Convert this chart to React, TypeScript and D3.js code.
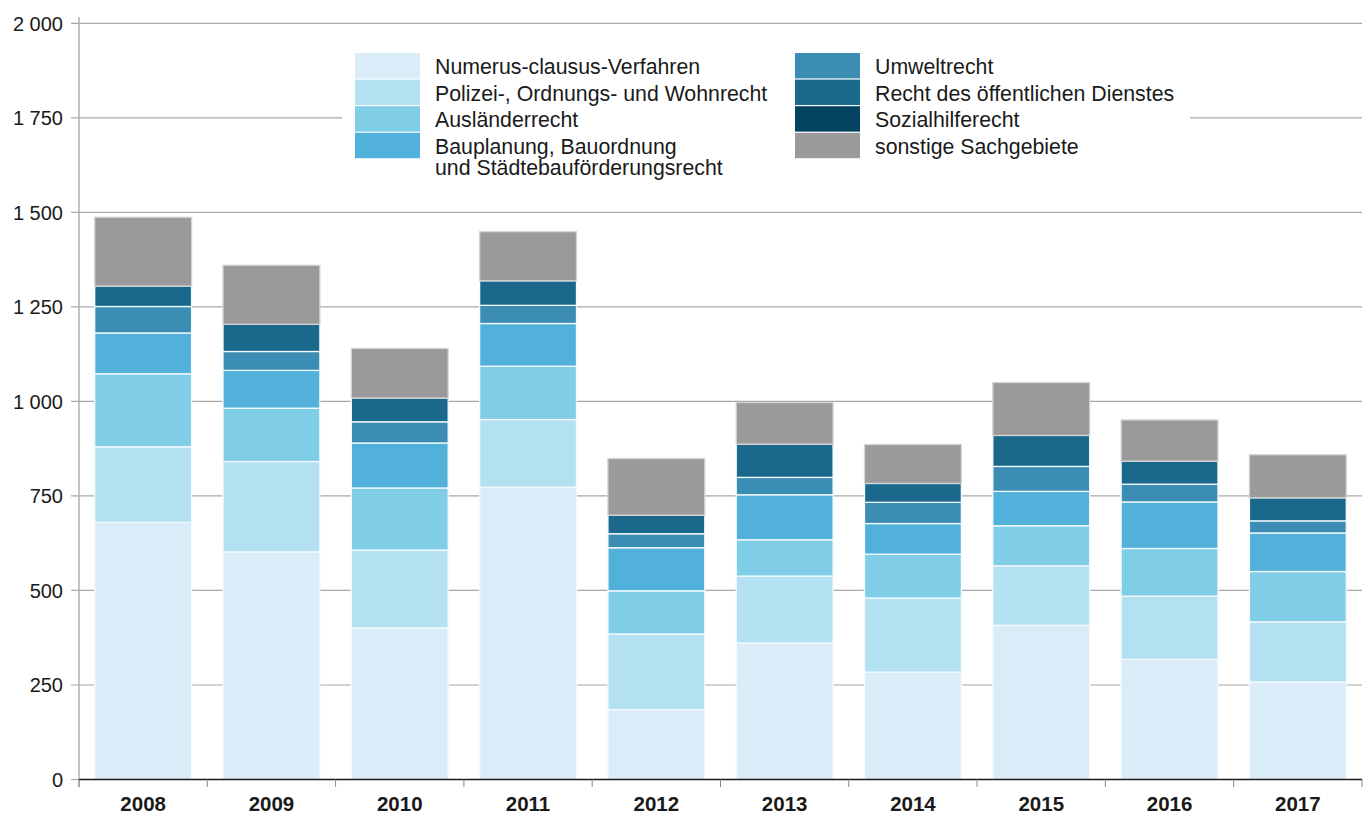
import React from "react";
import * as d3 from "d3";

const years = ["2008", "2009", "2010", "2011", "2012", "2013", "2014", "2015", "2016", "2017"];

const seriesNames = [
  "Numerus-clausus-Verfahren",
  "Polizei-, Ordnungs- und Wohnrecht",
  "Ausländerrecht",
  "Bauplanung, Bauordnung\nund Städtebauförderungsrecht",
  "Umweltrecht",
  "Recht des öffentlichen Dienstes",
  "Sozialhilferecht",
  "sonstige Sachgebiete",
];

const seriesColors = ["#daecf8", "#b3e1f1", "#7fcde6", "#52b1da", "#3b8db3", "#1a698c", "#03435f", "#9a9a9a"];

const numerusClausus = [680, 602, 401, 773, 185, 361, 284, 408, 318, 258];
const polizeiOrdnung = [200, 239, 206, 179, 200, 177, 196, 157, 167, 159];
const auslaenderrecht = [193, 141, 164, 141, 114, 96, 116, 106, 126, 133];
const bauplanung = [108, 100, 119, 113, 114, 119, 81, 91, 123, 102];
const umweltrecht = [70, 50, 56, 48, 37, 46, 56, 66, 47, 32];
const oeffentlicherDienst = [54, 72, 63, 65, 49, 88, 50, 82, 61, 61];
const sozialhilferecht = [0, 0, 0, 0, 0, 0, 0, 0, 0, 0];
const sonstige = [182, 156, 131, 130, 150, 110, 103, 140, 109, 114];

const yTicks = [0, 250, 500, 750, 1000, 1250, 1500, 1750, 2000];
const yTickLabels = ["0", "250", "500", "750", "1 000", "1 250", "1 500", "1 750", "2 000"];

const allSeries = [numerusClausus, polizeiOrdnung, auslaenderrecht, bauplanung, umweltrecht, oeffentlicherDienst, sozialhilferecht, sonstige];

const W = 1367;
const H = 816;
const left = 79;
const right = 1362;
const top = 23.3;
const bottom = 779.5;
const FONT = "'Liberation Sans', Arial, Helvetica, sans-serif";

export default function App() {
  const table = years.map((y, i) => {
    const row: any = { year: y };
    seriesNames.forEach((n, k) => (row[n] = allSeries[k][i]));
    return row;
  });
  const stacked = d3.stack().keys(seriesNames)(table);
  const x = d3.scaleBand().domain(years).range([left, right]).paddingInner(0.245).paddingOuter(0.1225);
  const y = d3.scaleLinear().domain([0, 2000]).range([bottom, top]);
  const boundaries = d3.range(years.length + 1).map((i) => left + (i * (right - left)) / years.length);

  const legendCol1 = seriesNames.slice(0, 4);
  const legendCol2 = seriesNames.slice(4);
  const rowH = 26.6;
  const legTop = 53;

  return (
    <div style={{ position: "absolute", left: 0, top: 0 }}>
      <svg width={W} height={H} style={{ display: "block", fontFamily: FONT }}>
        <rect width={W} height={H} fill="#fff" />
        {/* gridlines */}
        {yTicks.map((t, i) => (
          <g key={t}>
            {t > 0 && <line x1={71} x2={right} y1={y(t)} y2={y(t)} stroke="#a8a8a8" strokeWidth={1.2} />}
            <text x={63} y={y(t)} dy="0.36em" textAnchor="end" fontSize={20} fill="#1a1a1a">
              {yTickLabels[i]}
            </text>
          </g>
        ))}
        {/* legend background */}
        <rect x={342} y={36} width={848} height={152} fill="#fff" />
        {/* bars */}
        {stacked.map((layer, k) => (
          <g key={layer.key} fill={seriesColors[k]}>
            {layer.map((d, i) =>
              d[1] - d[0] > 0 ? (
                <rect
                  key={i}
                  x={x(years[i])}
                  width={x.bandwidth()}
                  y={y(d[1])}
                  height={y(d[0]) - y(d[1])}
                  stroke={k === 7 ? "#d4d4d4" : "#f4fafd"}
                  strokeWidth={1.3}
                />
              ) : null
            )}
          </g>
        ))}
        {/* y axis */}
        <line x1={left} x2={left} y1={17} y2={787} stroke="#b0b0b0" strokeWidth={1.5} />
        <line x1={71} x2={left} y1={bottom} y2={bottom} stroke="#a8a8a8" strokeWidth={1.2} />
        {/* x axis */}
        <line x1={left} x2={right} y1={bottom} y2={bottom} stroke="#1a1a1a" strokeWidth={1.6} />
        {boundaries.map((b, i) => (
          <line key={i} x1={b} x2={b} y1={bottom} y2={787} stroke="#888" strokeWidth={1} />
        ))}
        {years.map((yr) => (
          <text key={yr} x={(x(yr) as number) + x.bandwidth() / 2} y={811} textAnchor="middle" fontSize={20.5} fontWeight="bold" fill="#1a1a1a">
            {yr}
          </text>
        ))}
        {/* legend */}
        {[legendCol1, legendCol2].map((col, c) =>
          col.map((name, r) => {
            const k = c * 4 + r;
            const sx = c === 0 ? 355 : 795;
            const tx = c === 0 ? 435 : 875;
            const yy = legTop + r * rowH;
            const lines = name.split("\n");
            return (
              <g key={name}>
                <rect x={sx} y={yy} width={65} height={rowH - 1.2} fill={seriesColors[k]} />
                <text x={tx} y={yy + rowH / 2} fontSize={21.3} fill="#1a1a1a">
                  {lines.map((l, li) => (
                    <tspan key={li} x={tx} dy={li === 0 ? "0.36em" : 21.5}>
                      {l}
                    </tspan>
                  ))}
                </text>
              </g>
            );
          })
        )}
      </svg>
    </div>
  );
}
